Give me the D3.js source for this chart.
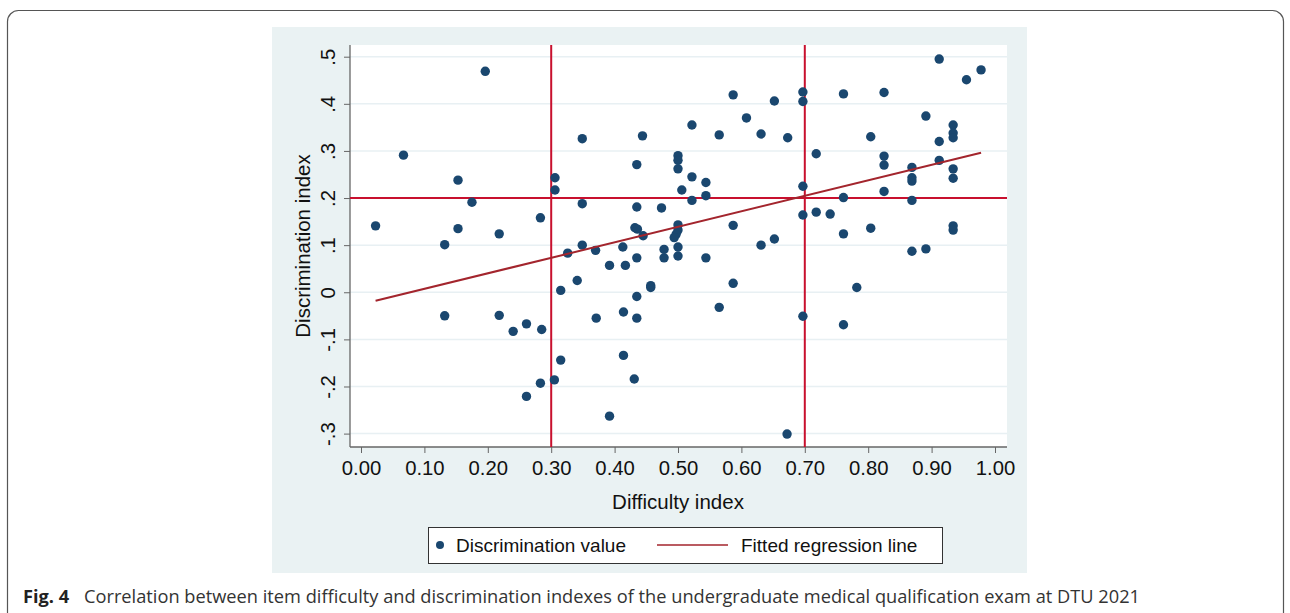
<!DOCTYPE html>
<html>
<head>
<meta charset="utf-8">
<script src="https://cdn.jsdelivr.net/npm/d3@7"></script>
<style>
  body { margin: 0; background: #fff; }
  svg { display: block; }
</style>
</head>
<body>
<script>
// item difficulty (x) and discrimination (y)
const difficulty = [
  0.023, 0.067, 0.132, 0.132, 0.153, 0.153, 0.175, 0.196, 0.218, 0.218,
  0.240, 0.261, 0.261, 0.283, 0.285, 0.283, 0.305, 0.306, 0.306, 0.315,
  0.315, 0.326, 0.341, 0.349, 0.349, 0.349, 0.370, 0.371, 0.392, 0.392,
  0.413, 0.417, 0.414, 0.414, 0.431, 0.435, 0.435, 0.432, 0.436, 0.435,
  0.435, 0.435, 0.444, 0.445, 0.457, 0.457, 0.474, 0.478, 0.478, 0.500,
  0.500, 0.500, 0.500, 0.500, 0.497, 0.494, 0.500, 0.500, 0.506, 0.522,
  0.522, 0.522, 0.544, 0.544, 0.544, 0.565, 0.565, 0.587, 0.587, 0.587,
  0.608, 0.631, 0.631, 0.652, 0.652, 0.673, 0.672, 0.697, 0.697, 0.697,
  0.697, 0.697, 0.718, 0.718, 0.740, 0.761, 0.761, 0.761, 0.761, 0.782,
  0.804, 0.804, 0.825, 0.825, 0.825, 0.825, 0.869, 0.869, 0.869, 0.869,
  0.869, 0.891, 0.891, 0.912, 0.912, 0.912, 0.934, 0.934, 0.934, 0.934,
  0.934, 0.934, 0.934, 0.955, 0.978
]
const discrimination = [
  0.141, 0.291, 0.101, -0.050, 0.238, 0.135, 0.191, 0.469, 0.124, -0.049,
  -0.083, -0.067, -0.221, 0.158, -0.079, -0.193, -0.186, 0.243, 0.217, 0.004,
  -0.144, 0.083, 0.025, 0.326, 0.188, 0.100, 0.089, -0.055, 0.057, -0.263,
  0.096, 0.057, -0.042, -0.134, -0.184, 0.271, 0.181, 0.137, 0.134, 0.073,
  -0.009, -0.055, 0.332, 0.120, 0.014, 0.010, 0.179, 0.091, 0.073, 0.290,
  0.280, 0.262, 0.143, 0.132, 0.123, 0.116, 0.096, 0.077, 0.217, 0.355,
  0.245, 0.195, 0.233, 0.205, 0.073, 0.334, -0.032, 0.419, 0.142, 0.019,
  0.370, 0.336, 0.100, 0.406, 0.113, 0.328, -0.301, 0.425, 0.405, 0.225,
  0.164, -0.051, 0.294, 0.170, 0.166, 0.421, 0.201, 0.124, -0.069, 0.010,
  0.330, 0.136, 0.424, 0.289, 0.270, 0.214, 0.265, 0.243, 0.236, 0.195,
  0.087, 0.374, 0.092, 0.495, 0.320, 0.280, 0.355, 0.338, 0.328, 0.262,
  0.242, 0.141, 0.132, 0.451, 0.472
]
// fitted regression line (ends)
const fitX = [0.023, 0.978]
const fitY = [-0.018, 0.296]
// cut-off reference lines
const cutX = [0.3, 0.7]
const cutY = [0.2]
// axis ticks
const xTicks = [0, 0.1, 0.2, 0.3, 0.4, 0.5, 0.6, 0.7, 0.8, 0.9, 1.0]
const yTicks = [-0.3, -0.2, -0.1, 0, 0.1, 0.2, 0.3, 0.4, 0.5]
const yTickLabels = ['-.3', '-.2', '-.1', '0', '.1', '.2', '.3', '.4', '.5']
const legendLabels = ['Discrimination value', 'Fitted regression line']

const W = 1290, H = 613
const plot = { left: 350, right: 1007, top: 45, bottom: 447 }
const navy = '#1a476f', red = '#c8102e', maroon = '#a3252d'
const font = "'Liberation Sans', Arial, sans-serif"

const svg = d3.select('body').append('svg').attr('width', W).attr('height', H)

// figure frame
svg.append('rect').attr('x', 7.5).attr('y', 10.5).attr('width', 1276).attr('height', 700)
    .attr('rx', 11).attr('fill', 'none').attr('stroke', '#555').attr('stroke-width', 1.2)

// graph region + plot region
svg.append('rect').attr('x', 272).attr('y', 27).attr('width', 755).attr('height', 546).attr('fill', '#eaf2f3')
svg.append('rect').attr('x', plot.left).attr('y', plot.top)
    .attr('width', plot.right - plot.left).attr('height', plot.bottom - plot.top).attr('fill', '#fff')

const x = d3.scaleLinear().domain([0, 1]).range([361, 995])
const y = d3.scaleLinear().domain([-0.3, 0.5]).range([433.6, 56.7])

// grid lines
svg.append('g').selectAll('line').data(yTicks).enter().append('line')
    .attr('x1', plot.left).attr('x2', plot.right)
    .attr('y1', d => y(d)).attr('y2', d => y(d))
    .attr('stroke', '#e8f0f3').attr('stroke-width', 1.5)

// axes
const xAxis = d3.axisBottom(x).tickValues(xTicks).tickFormat(d3.format('.2f')).tickSize(6).tickSizeOuter(0).tickPadding(8)
const gx = svg.append('g').attr('transform', `translate(0,${plot.bottom})`).call(xAxis)
gx.select('.domain').remove()
gx.selectAll('line').attr('stroke', '#666')
gx.selectAll('text').attr('font-size', 20.3).attr('font-family', font).attr('fill', '#111')

const yAxis = d3.axisLeft(y).tickValues(yTicks).tickFormat((d, i) => yTickLabels[i]).tickSize(6).tickSizeOuter(0)
const gy = svg.append('g').attr('transform', `translate(${plot.left},0)`).call(yAxis)
gy.select('.domain').remove()
gy.selectAll('line').attr('stroke', '#666')
gy.selectAll('text')
    .attr('x', null).attr('dy', null)
    .attr('transform', 'translate(-15,0) rotate(-90)')
    .attr('text-anchor', 'middle')
    .attr('font-size', 20.3).attr('font-family', font).attr('fill', '#111')

// axis lines
svg.append('line').attr('x1', plot.left).attr('x2', plot.left).attr('y1', plot.top).attr('y2', plot.bottom)
    .attr('stroke', '#666').attr('stroke-width', 1.3)
svg.append('line').attr('x1', plot.left).attr('x2', plot.right).attr('y1', plot.bottom).attr('y2', plot.bottom)
    .attr('stroke', '#666').attr('stroke-width', 1.3)

// axis titles
svg.append('text').attr('x', (x(0) + x(1)) / 2).attr('y', 509).attr('text-anchor', 'middle')
    .attr('font-size', 20.5).attr('font-family', font).attr('fill', '#111').text('Difficulty index')
svg.append('text').attr('transform', `translate(310,${(plot.top + plot.bottom) / 2}) rotate(-90)`)
    .attr('text-anchor', 'middle')
    .attr('font-size', 20.5).attr('font-family', font).attr('fill', '#111').text('Discrimination index')

// cut-off lines
svg.append('g').selectAll('line').data(cutY).enter().append('line')
    .attr('x1', plot.left).attr('x2', plot.right).attr('y1', d => y(d)).attr('y2', d => y(d))
    .attr('stroke', red).attr('stroke-width', 2)
svg.append('g').selectAll('line').data(cutX).enter().append('line')
    .attr('x1', d => x(d)).attr('x2', d => x(d)).attr('y1', plot.top).attr('y2', plot.bottom)
    .attr('stroke', red).attr('stroke-width', 2)

// points
svg.append('g').selectAll('circle').data(difficulty).enter().append('circle')
    .attr('cx', d => x(d)).attr('cy', (d, i) => y(discrimination[i]))
    .attr('r', 4.7).attr('fill', navy)

// regression line
const line = d3.line().x(d => x(d[0])).y(d => y(d[1]))
svg.append('path').datum(fitX.map((d, i) => [d, fitY[i]])).attr('d', line)
    .attr('fill', 'none').attr('stroke', maroon).attr('stroke-width', 2)

// legend
const lg = svg.append('g')
lg.append('rect').attr('x', 428.5).attr('y', 527.5).attr('width', 514).attr('height', 36)
    .attr('fill', '#fff').attr('stroke', '#333').attr('stroke-width', 1)
lg.append('circle').attr('cx', 440).attr('cy', 545).attr('r', 4).attr('fill', navy)
lg.append('text').attr('x', 456).attr('y', 552).attr('font-size', 19).attr('font-family', font)
    .attr('fill', '#111').text(legendLabels[0])
lg.append('line').attr('x1', 657).attr('x2', 728).attr('y1', 545).attr('y2', 545)
    .attr('stroke', maroon).attr('stroke-width', 1.5)
lg.append('text').attr('x', 741).attr('y', 552).attr('font-size', 19).attr('font-family', font)
    .attr('fill', '#111').text(legendLabels[1])

// caption
const cap = svg.append('text').attr('x', 23).attr('y', 603).attr('font-size', 18.2)
    .attr('font-family', "'Open Sans', 'Noto Sans', sans-serif").attr('fill', '#333')
cap.append('tspan').attr('font-weight', 'bold').attr('fill', '#222').text('Fig. 4')
cap.append('tspan').attr('x', 84)
    .attr('textLength', 1056).attr('lengthAdjust', 'spacingAndGlyphs')
    .text('Correlation between item difficulty and discrimination indexes of the undergraduate medical qualification exam at DTU 2021')
</script>
</body>
</html>
